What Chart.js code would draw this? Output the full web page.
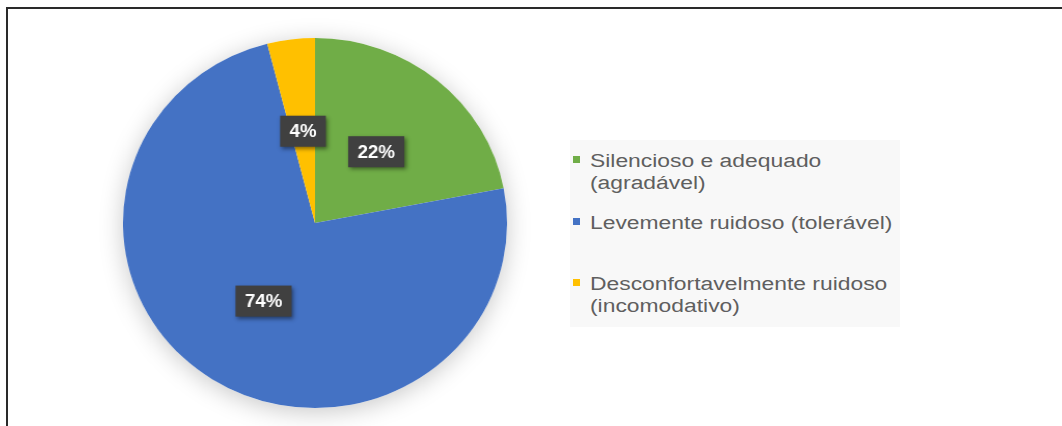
<!DOCTYPE html>
<html>
<head>
<meta charset="utf-8">
<script src="https://cdn.jsdelivr.net/npm/chart.js@4.4.1/dist/chart.umd.min.js"></script>
<style>
  html, body {
    margin: 0;
    padding: 0;
    background: #fff;
    width: 1062px;
    height: 426px;
    overflow: hidden;
    font-family: "Liberation Sans", Arial, sans-serif;
  }
  #frame {
    position: absolute;
    left: 6px;
    top: 7px;
    width: 1100px;
    height: 500px;
    border-top: 2px solid #2a2a2a;
    border-left: 2px solid #2a2a2a;
  }
  #pieWrap {
    position: absolute;
    left: 90px;
    top: -2px;
    width: 450px;
    height: 450px;
    transform: scaleX(1.038);
    transform-origin: center;
  }
  #legend {
    position: absolute;
    left: 570px;
    top: 140px;
    width: 330px;
    height: 187px;
    background: #f8f8f8;
  }
  .item {
    position: absolute;
    left: 0;
  }
  .marker {
    position: absolute;
    left: 3px;
    top: 5px;
    width: 7px;
    height: 7px;
  }
  .line {
    position: absolute;
    left: 20px;
    font-size: 18px;
    line-height: 21.5px;
    color: #5f5f5f;
    white-space: nowrap;
    transform: scaleX(1.27);
    transform-origin: left;
  }
</style>
</head>
<body>
<div id="frame"></div>
<div id="pieWrap"><canvas id="pieChart" width="450" height="450"></canvas></div>
<div id="legend"></div>

<script>
// Categories (one array of lines per entry) and their shares in percent
const categories = [
  ["Silencioso e adequado", "(agradável)"],
  ["Levemente ruidoso (tolerável)"],
  ["Desconfortavelmente ruidoso", "(incomodativo)"],
];
const shares = [22, 74, 4];
const sliceColors = ["#70AD47", "#4472C4", "#FFC000"];

// Soft shadow under the whole pie
const pieShadow = {
  id: "pieShadow",
  beforeDatasetsDraw(chart) {
    const arc = chart.getDatasetMeta(0).data[0];
    if (!arc) return;
    const ctx = chart.ctx;
    ctx.save();
    ctx.shadowColor = "rgba(0, 0, 0, 0.22)";
    ctx.shadowBlur = 24;
    ctx.shadowOffsetY = 4;
    ctx.fillStyle = "#ffffff";
    ctx.beginPath();
    ctx.arc(arc.x, arc.y, arc.outerRadius, 0, Math.PI * 2);
    ctx.fill();
    ctx.restore();
  },
};

// Percentage labels in dark boxes at the middle of each slice
const sliceLabels = {
  id: "sliceLabels",
  afterDatasetsDraw(chart) {
    const ctx = chart.ctx;
    const values = chart.data.datasets[0].data;
    chart.getDatasetMeta(0).data.forEach((arc, i) => {
      const { x, y } = arc.tooltipPosition();
      const text = values[i] + "%";
      ctx.save();
      ctx.font = "bold 18px 'Liberation Sans', Arial, sans-serif";
      const w = ctx.measureText(text).width + 18;
      const h = 31;
      ctx.shadowColor = "rgba(0, 0, 0, 0.45)";
      ctx.shadowBlur = 4;
      ctx.shadowOffsetX = 2;
      ctx.shadowOffsetY = 2;
      ctx.fillStyle = "#404040";
      ctx.fillRect(x - w / 2, y - h / 2, w, h);
      ctx.shadowColor = "transparent";
      ctx.fillStyle = "#ffffff";
      ctx.textAlign = "center";
      ctx.textBaseline = "middle";
      ctx.fillText(text, x, y + 1);
      ctx.restore();
    });
  },
};

const chart = new Chart(document.getElementById("pieChart"), {
  type: "pie",
  data: {
    labels: categories,
    datasets: [
      {
        data: shares,
        backgroundColor: sliceColors,
        borderWidth: 0,
      },
    ],
  },
  options: {
    responsive: false,
    animation: false,
    layout: { padding: 40 },
    plugins: {
      legend: { display: false },
      tooltip: { enabled: false },
    },
  },
  plugins: [pieShadow, sliceLabels],
});

// Legend built from the chart's own labels and colours
const legendEl = document.getElementById("legend");
const itemTops = [11, 72.5, 134];
chart.data.labels.forEach((lines, i) => {
  const item = document.createElement("div");
  item.className = "item";
  item.style.top = itemTops[i] + "px";
  const marker = document.createElement("div");
  marker.className = "marker";
  marker.style.background = chart.data.datasets[0].backgroundColor[i];
  item.appendChild(marker);
  lines.forEach((txt, j) => {
    const line = document.createElement("div");
    line.className = "line";
    line.style.top = j * 21.5 + "px";
    line.textContent = txt;
    item.appendChild(line);
  });
  legendEl.appendChild(item);
});
</script>
</body>
</html>
